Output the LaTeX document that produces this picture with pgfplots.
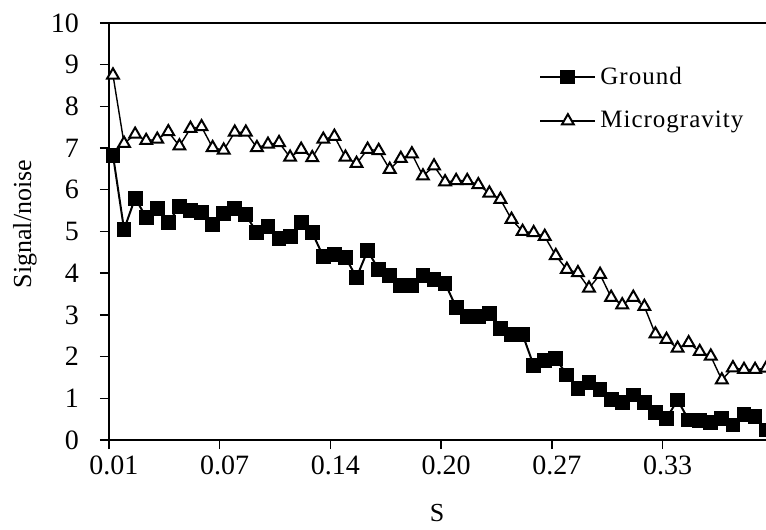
\documentclass[border=0pt]{standalone}
\usepackage{fontspec}
\setmainfont{Liberation Serif}
\usepackage{pgfplots}
\pgfplotsset{compat=1.18}

% signal/noise against S, one row per point (index k)
\pgfplotstableread{
k  val
0  6.83
1  5.05
2  5.80
3  5.34
4  5.56
5  5.21
6  5.60
7  5.50
8  5.45
9  5.16
10 5.44
11 5.56
12 5.40
13 4.97
14 5.12
15 4.83
16 4.88
17 5.21
18 4.97
19 4.40
20 4.45
21 4.38
22 3.90
23 4.54
24 4.09
25 3.94
26 3.70
27 3.70
28 3.94
29 3.85
30 3.76
31 3.18
32 2.96
33 2.96
34 3.04
35 2.68
36 2.53
37 2.53
38 1.79
39 1.90
40 1.96
41 1.56
42 1.24
43 1.37
44 1.22
45 0.98
46 0.90
47 1.08
48 0.90
49 0.66
50 0.52
51 0.96
52 0.48
53 0.46
54 0.42
55 0.52
56 0.36
57 0.62
58 0.56
59 0.24
}\ground

\pgfplotstableread{
k  val
0  8.75
1  7.11
2  7.33
3  7.18
4  7.21
5  7.39
6  7.05
7  7.47
8  7.51
9  7.01
10 6.95
11 7.38
12 7.38
13 7.01
14 7.09
15 7.13
16 6.78
17 6.97
18 6.77
19 7.21
20 7.28
21 6.78
22 6.63
23 6.97
24 6.94
25 6.49
26 6.75
27 6.86
28 6.33
29 6.57
30 6.19
31 6.22
32 6.22
33 6.12
34 5.92
35 5.77
36 5.29
37 5.00
38 4.97
39 4.88
40 4.42
41 4.09
42 4.01
43 3.64
44 3.97
45 3.42
46 3.24
47 3.42
48 3.20
49 2.54
50 2.41
51 2.20
52 2.33
53 2.12
54 2.01
55 1.44
56 1.73
57 1.69
58 1.69
59 1.72
}\micro

\begin{document}
\begin{tikzpicture}
\begin{axis}[
    scale only axis,
    width=334.1pt, height=208.5pt,
    xmin=-0.36, xmax=60, ymin=0, ymax=10,
    clip=false,
    axis line style={line width=1pt},
    xtick={-0.36,9.64,19.64,29.64,39.64,49.64},
    xticklabels={0.01,0.07,0.14,0.20,0.27,0.33},
    ytick={0,1,...,10},
    xtick pos=bottom, ytick pos=left,
    tick align=outside, major tick length=4.5pt,
    tick style={black, line width=0.7pt},
    /pgf/number format/assume math mode=true,
    ticklabel style={font=\fontsize{14}{16}\selectfont},
    xticklabel style={xshift=2.5pt},
    yticklabel style={xshift=-7pt},
    xlabel={S}, ylabel={Signal/noise},
    label style={font=\fontsize{13}{15}\selectfont},
    xlabel style={at={(axis description cs:0.491,0)}, anchor=center, yshift=-36.5pt},
    ylabel style={at={(axis description cs:0,0.518)}, anchor=center, rotate=0, yshift=42pt},
    reverse legend,
    legend style={draw=none, fill=none, at={(axis description cs:0.6345,0.915)},
        anchor=north west, row sep=8pt,
        font=\fontsize{12.5}{14}\selectfont\addfontfeature{LetterSpace=4}},
    legend cell align=left,
    legend image code/.code={
        \draw[mark repeat=2, mark phase=2, #1] plot coordinates {(0pt,0pt) (13.75pt,0pt) (27.5pt,0pt)};
    },
]
\addplot[black, line width=0.7pt, mark=triangle*,
    mark options={fill=white, draw=black, line width=1pt, mark size=3.4pt}]
    table[x=k, y=val] {\micro};
\addlegendentry{Microgravity}
\addplot[black, line width=1pt, mark=square*,
    mark options={fill=black, mark size=3.2pt}]
    table[x=k, y=val] {\ground};
\addlegendentry{Ground}
\end{axis}
\pgfresetboundingbox
\path (-54.5pt,-45pt) rectangle (328.5pt,220pt);
\end{tikzpicture}
\end{document}
